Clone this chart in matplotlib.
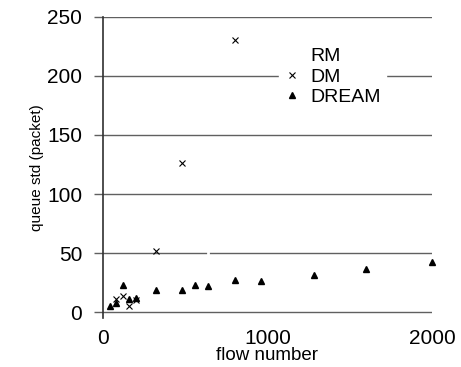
import matplotlib
matplotlib.use("Agg")
import matplotlib.pyplot as plt

plt.rcParams['font.family'] = ['Liberation Sans', 'DejaVu Sans']

# data
rm_x = [640]
rm_y = [50]

dm_x = [80, 120, 160, 200, 320, 480, 800]
dm_y = [11, 14, 5.5, 10.5, 52, 126, 230.5]

dream_x = [40, 80, 120, 160, 200, 320, 480, 560, 640, 800, 960, 1280, 1600, 2000]
dream_y = [5.5, 8.2, 23, 11.3, 11.8, 18.6, 18.6, 23.4, 22.3, 27, 26.5, 31.6, 37, 42.3]

y_ticks = [0, 50, 100, 150, 200, 250]
x_ticks = [0, 1000, 2000]

fig = plt.figure(figsize=(4.61, 3.67), dpi=100)
ax = fig.add_axes([0.2234, 0.133, 0.7137, 0.8215])

grid_c = '#606060'
ax.set_xlim(0, 2000)
ax.set_ylim(-5, 250)
ax.set_yticks(y_ticks)
ax.set_xticks(x_ticks)
ax.yaxis.grid(True, color=grid_c, linewidth=1)
ax.set_axisbelow(True)
for s in ['top', 'right', 'bottom']:
    ax.spines[s].set_visible(False)
ax.spines['left'].set_color('#303030')
ax.spines['left'].set_linewidth(1.2)
ax.tick_params(axis='y', length=6.5, width=1, color=grid_c, pad=8.5, labelsize=15)
ax.tick_params(axis='x', length=0, pad=8, labelsize=15)

ax.plot(rm_x, rm_y, linestyle='none', marker='|', color='white', markersize=4,
        markeredgewidth=2, label='RM', clip_on=False)
ax.plot(dm_x, dm_y, linestyle='none', marker='x', color='black', markersize=4.5,
        markeredgewidth=0.8, label='DM', clip_on=False)
ax.plot(dream_x, dream_y, linestyle='none', marker='^', color='black', markersize=5,
        label='DREAM', clip_on=False)

ax.set_xlabel('flow number', fontsize=13.5, labelpad=-1)
ax.set_ylabel('queue std (packet)', fontsize=11, labelpad=2)

leg = ax.legend(loc='upper left', bbox_to_anchor=(0.535, 0.917), frameon=True,
                fancybox=False, edgecolor='white', facecolor='white', framealpha=1,
                fontsize=14, handlelength=0.7, handletextpad=0.6, labelspacing=0.15,
                borderpad=0.3, borderaxespad=0)

fig.savefig('out.png', dpi=100)
